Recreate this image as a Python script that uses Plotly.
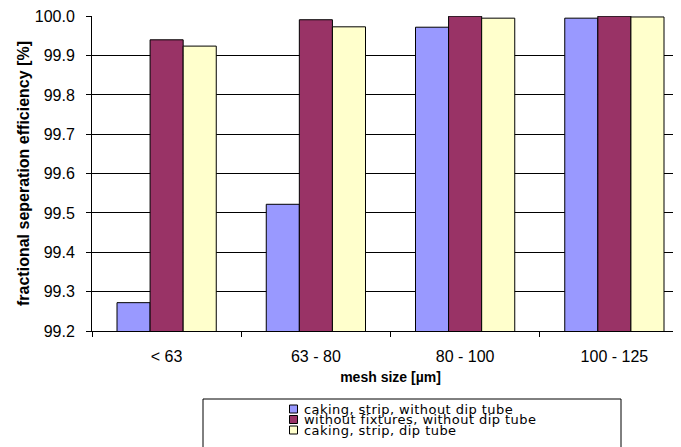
import plotly.graph_objects as go

categories = ["< 63", "63 - 80", "80 - 100", "100 - 125"]
series_names = [
    "caking, strip, without dip tube",
    "without fixtures, without dip tube",
    "caking, strip, dip tube",
]
caking_strip_no_tube = [99.272, 99.522, 99.972, 99.995]
no_fixtures_no_tube = [99.940, 99.991, 100.0, 100.0]
caking_strip_tube = [99.924, 99.973, 99.995, 99.998]
series_values = [caking_strip_no_tube, no_fixtures_no_tube, caking_strip_tube]
colors = ["#9999FF", "#993366", "#FFFFCC"]
y_ticks = [99.2, 99.3, 99.4, 99.5, 99.6, 99.7, 99.8, 99.9, 100.0]
y_tick_labels = ["99.2", "99.3", "99.4", "99.5", "99.6", "99.7", "99.8", "99.9", "100.0"]

# page body has an 8px margin; figure coordinates are offset by it
OFF = 8
W, H = 681, 447
ML, MR, MT, MB = 92 - OFF, 0, 16 - OFF, H - (331 - OFF)
PW, PH = W - ML - MR, H - MT - MB

FONT = "Liberation Sans, Arial, sans-serif"

fig = go.Figure()
for name, vals, col in zip(series_names, series_values, colors):
    fig.add_trace(go.Bar(
        x=categories, y=vals, name=name,
        marker=dict(color=col, line=dict(color="#000000", width=1)),
        showlegend=False,
    ))

def px_x(px):
    return (px - OFF - ML) / PW

def px_y(py):
    return (H - MB - (py - OFF)) / PH

shapes = []
annotations = []
# legend box
shapes.append(dict(type="rect", xref="paper", yref="paper",
                   x0=px_x(203), x1=px_x(621), y0=px_y(475), y1=px_y(399),
                   line=dict(color="#000000", width=1), fillcolor="white", layer="above"))
for i, (name, col) in enumerate(zip(series_names, colors)):
    top = 405 + i * 10.5
    shapes.append(dict(type="rect", xref="paper", yref="paper",
                       x0=px_x(289.5), x1=px_x(297.5), y0=px_y(top + 8), y1=px_y(top),
                       line=dict(color="#000000", width=1), fillcolor=col, layer="above"))
    annotations.append(dict(text='<span style="letter-spacing:0.45px">' + name + '</span>',
                            xref="paper", yref="paper",
                            x=px_x(302), y=px_y(top + 4), xanchor="left", yanchor="middle",
                            showarrow=False,
                            font=dict(family="DejaVu Sans", size=13, color="#000000")))

fig.update_layout(
    width=W, height=H,
    margin=dict(l=ML, r=MR, t=MT, b=MB, pad=0),
    paper_bgcolor="white", plot_bgcolor="white",
    barmode="group", bargap=0.335, bargroupgap=0,
    font=dict(family=FONT, size=16, color="#000000"),
    shapes=shapes, annotations=annotations,
    showlegend=False,
)
fig.update_xaxes(
    range=[-0.5, 3.5],
    showline=True, linecolor="#000000", linewidth=1,
    ticks="outside", ticklen=5, tickcolor="#000000", tickson="boundaries",
    ticklabelstandoff=11,
    showgrid=False,
    tickfont=dict(family=FONT, size=16),
    title=dict(text="<b>mesh size [µm]</b>", font=dict(family=FONT, size=14), standoff=7),
)
fig.update_yaxes(
    range=[99.2, 100.0005], tickmode="array", tickvals=y_ticks, ticktext=y_tick_labels,
    showline=True, linecolor="#000000", linewidth=1,
    ticks="outside", ticklen=5, tickcolor="#000000",
    ticklabelstandoff=8, ticklabeloverflow="allow",
    showgrid=True, gridcolor="#000000", gridwidth=1,
    zeroline=False,
    tickfont=dict(family=FONT, size=16),
    title=dict(text="<b>fractional seperation efficiency [%]</b>", font=dict(family=FONT, size=16), standoff=1),
)

fig.write_html("out.html")
